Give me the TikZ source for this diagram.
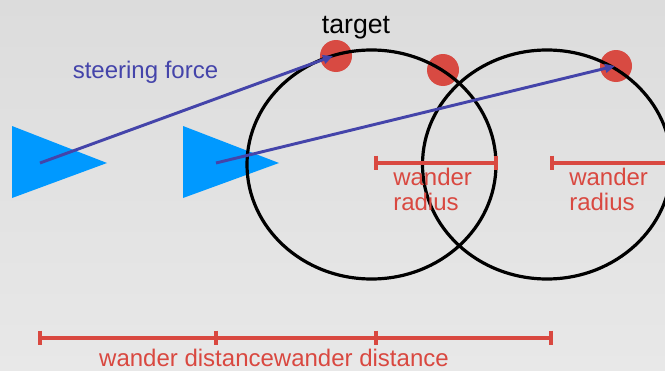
\documentclass[tikz,border=0pt]{standalone}
\usepackage{fontspec}
\setmainfont{Liberation Sans}
\usetikzlibrary{arrows.meta}
\definecolor{tri}{RGB}{0,153,255}
\definecolor{dotred}{RGB}{216,74,66}
\definecolor{barred}{RGB}{217,72,64}
\definecolor{steer}{RGB}{68,68,170}
\definecolor{bgtop}{RGB}{220,220,220}
\definecolor{bgbot}{RGB}{232,232,232}
\begin{document}
\begin{tikzpicture}[x=0.75pt,y=-0.75pt,
  vehicle/.style={fill=tri},
  dot/.style={circle,fill=dotred,minimum size=24pt,inner sep=0pt},
  ring/.style={draw=black,line width=2.4pt},
  force/.style={draw=steer,line width=2.2pt,-{Triangle[length=7.5pt,width=6.5pt]}},
  bar/.style={draw=barred,line width=2.5pt},
  redlabel/.style={text=barred,font=\fontsize{18}{20}\selectfont,inner sep=0pt},
  lbl/.style={font=\fontsize{18}{20}\selectfont,inner sep=0pt}]
\shade[top color=bgtop,bottom color=bgbot] (0,0) rectangle (665,371);
\useasboundingbox (0,0) rectangle (665,371);
% vehicles
\fill[vehicle] (12,126) -- (107,163) -- (12,198) -- cycle;
\fill[vehicle] (183,126) -- (279,163) -- (183,198) -- cycle;
\coordinate (v1) at (40,163);
\coordinate (v2) at (216,163);
% dots
\node[dot] (t1) at (336,56) {};
\node[dot] (t2) at (443,70) {};
\node[dot] (t3) at (616,66) {};
% wander circles
\node[draw=none,inner sep=0pt] (c1) at (371.5,164.5) {};
\node[draw=none,inner sep=0pt] (c2) at (547,164.5) {};
\draw[ring] (c1.center) ellipse [x radius=124.5, y radius=114.5];
\draw[ring] (c2.center) ellipse [x radius=124.5, y radius=114.5];
% steering forces
\draw[force] (v1) -- ([xshift=-2.25pt]t1.center);
\draw[force] (v2) -- ([xshift=-0.75pt]t3.center);
% wander radius bars
\coordinate (r1a) at (376,163);
\coordinate (r1b) at (496,163);
\coordinate (r2a) at (552,163);
\coordinate (r2b) at (670,163);
\draw[bar] (r1a) -- (r1b);
\draw[bar] (r2a) -- (r2b);
\foreach \p in {r1a,r1b,r2a}{
  \draw[bar] ([yshift=5.6pt]\p) -- ([yshift=-5.6pt]\p);
}
% wander distance bar
\coordinate (w0) at (40,338);
\coordinate (w1) at (216,338);
\coordinate (w2) at (376,338);
\coordinate (w3) at (551,338);
\draw[bar] (w0) -- (w3);
\foreach \p in {w0,w1,w2,w3}{
  \draw[bar] ([yshift=5.6pt]\p) -- ([yshift=-5.6pt]\p);
}
% labels
\node[lbl,text=steer,anchor=base] (sf) at (145.5,79) {steering force};
\node[font=\fontsize{20}{22}\selectfont,inner sep=0pt,anchor=base] (tg) at (356,33) {target};
\node[redlabel,anchor=base west,align=left] (wr1) at (393,185) {wander};
\node[redlabel,anchor=base west] (wr1b) at (393,210) {radius};
\node[redlabel,anchor=base west] (wr2) at (569,185) {wander};
\node[redlabel,anchor=base west] (wr2b) at (569,210) {radius};
\node[redlabel,anchor=base] (wd) at (274,366) {wander distancewander distance};
\end{tikzpicture}
\end{document}
